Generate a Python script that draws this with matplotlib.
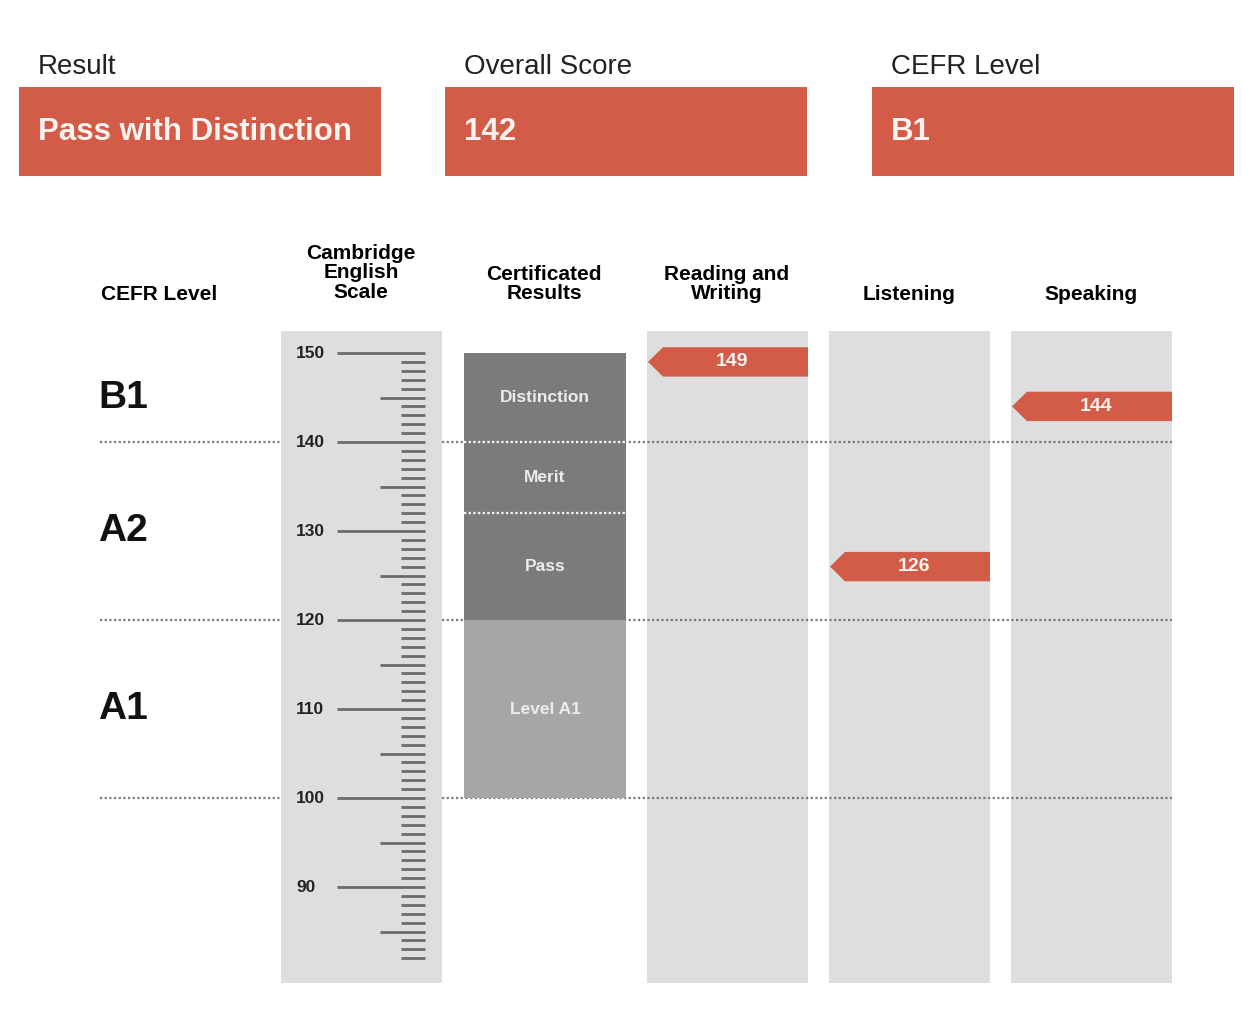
import matplotlib.pyplot as plt
from matplotlib.patches import Rectangle, Polygon

plt.rcParams['font.family'] = ['Liberation Sans', 'DejaVu Sans']

# headline results
head_titles = ['Result', 'Overall Score', 'CEFR Level']
head_values = ['Pass with Distinction', '142', 'B1']

# CEFR bands
cefr_levels = ['B1', 'A2', 'A1']
cefr_label_at = [145, 130, 110]
cefr_bounds = [140, 120, 100]

# certificated results bands
cert_labels = ['Distinction', 'Merit', 'Pass', 'Level A1']
cert_low = [140, 132, 120, 100]
cert_high = [150, 140, 132, 120]
cert_mid = [145, 136, 126, 110]

# skill scores
skills = ['Reading and\nWriting', 'Listening', 'Speaking']
skill_scores = [149, 126, 144]

# scale
scale_min, scale_max = 82, 150
scale_labels = [150, 140, 130, 120, 110, 100, 90]

RED = '#d25c47'
COL_BG = '#dedede'

W, H = 1242, 1014
fig = plt.figure(figsize=(W / 100, H / 100), dpi=100)

# pixel axes for header texts
axh = fig.add_axes([0, 0, 1, 1])
axh.set_xlim(0, W)
axh.set_ylim(H, 0)
axh.axis('off')

# score axes for the chart (x in pixels, y in score points)
ax = fig.add_axes([0, 0, 1, 1])
ax.patch.set_alpha(0)
px_per_pt = 8.9
def s(p):
    return 150 - (p - 353) / px_per_pt
ax.set_xlim(0, W)
ax.set_ylim(s(H), s(0))
ax.axis('off')

# headline boxes
box_x = [19, 445, 872]
for x0, t, v in zip(box_x, head_titles, head_values):
    axh.text(x0 + 19, 67, t, fontsize=20, va='center', ha='left', color='#222222')
    axh.add_patch(Rectangle((x0, 87), 362, 89, color=RED, lw=0))
    axh.text(x0 + 19, 132, v, fontsize=22.5, fontweight='bold', color='#fbf3f0',
             va='center', ha='left')

# column headers
col_top, col_bot = s(331), s(983)
hdr_y = 295
axh.text(159, hdr_y, 'CEFR Level', fontsize=15, fontweight='bold', ha='center', va='center')
axh.text(361, 273, 'Cambridge\nEnglish\nScale', fontsize=15, fontweight='bold',
         ha='center', va='center', linespacing=1.05)
axh.text(544, 284, 'Certificated\nResults', fontsize=15, fontweight='bold',
         ha='center', va='center', linespacing=1.05)

# scale column
ax.add_patch(Rectangle((281, col_bot), 161, col_top - col_bot, color=COL_BG, lw=0, zorder=1))
for v in range(scale_min, scale_max + 1):
    if v % 10 == 0:
        x0 = 337
    elif v % 5 == 0:
        x0 = 380
    else:
        x0 = 401
    ax.plot([x0, 425], [v, v], color='#6a6a6a', lw=2.0, solid_capstyle='butt', zorder=3)
for v in scale_labels:
    ax.text(296, v, str(v), fontsize=12.5, fontweight='bold', ha='left', va='center',
            color='#222222', zorder=3)

# skill columns
skill_x = [647, 829, 1011]
for x0, name, sc in zip(skill_x, skills, skill_scores):
    ax.add_patch(Rectangle((x0, col_bot), 161, col_top - col_bot, color=COL_BG, lw=0, zorder=1))
    axh.text(x0 + 80, 284 if '\n' in name else hdr_y, name, fontsize=15, fontweight='bold',
             ha='center', va='center', linespacing=1.05)

# CEFR boundaries
for b in cefr_bounds:
    ax.plot([100, 281], [b, b], color='#7a7a7a', lw=1.6, ls=(0, (1, 1.1)), zorder=2)
    ax.plot([442, 1172], [b, b], color='#7a7a7a', lw=1.6, ls=(0, (1, 1.1)), zorder=2)
for lev, y in zip(cefr_levels, cefr_label_at):
    ax.text(98, y, lev, fontsize=28, fontweight='bold', ha='left', va='center', color='#111111')

# certificated results
for lab, lo, hi, mid in zip(cert_labels, cert_low, cert_high, cert_mid):
    c = '#a6a6a6' if lab == 'Level A1' else '#7b7b7b'
    ax.add_patch(Rectangle((464, lo), 162, hi - lo, color=c, lw=0, zorder=4))
    ax.text(545, mid, lab, fontsize=12.5, fontweight='bold', color='#ececec',
            ha='center', va='center', zorder=5)
for b in cert_low[:2]:
    ax.plot([464, 626], [b, b], color='white', lw=1.6, ls=(0, (1, 1.1)), zorder=5)

# score arrows
half = 1.65
for x0, sc in zip(skill_x, skill_scores):
    xs = [x0 + 1, x0 + 16, x0 + 161, x0 + 161, x0 + 16]
    ys = [sc, sc + half, sc + half, sc - half, sc - half]
    ax.add_patch(Polygon(list(zip(xs, ys)), closed=True, color=RED, lw=0, zorder=6))
    ax.text(x0 + 85, sc, str(sc), fontsize=14, fontweight='bold', color='#fbf3f0',
            ha='center', va='center', zorder=7)

fig.savefig('out.png', dpi=100)
